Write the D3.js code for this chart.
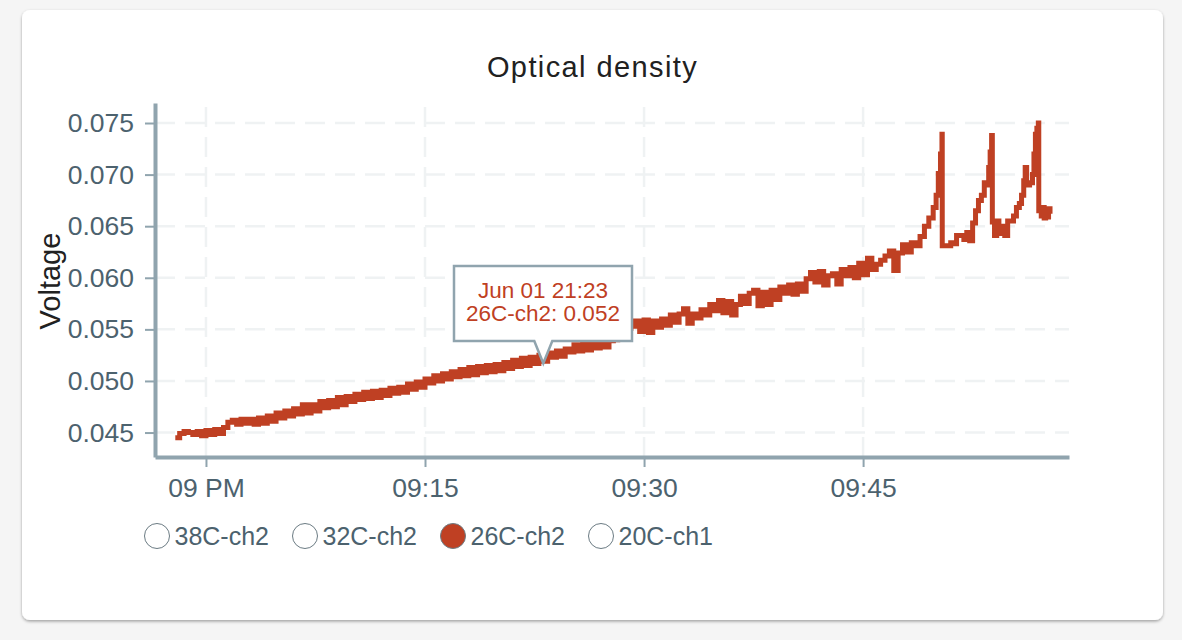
<!DOCTYPE html>
<html>
<head>
<meta charset="utf-8">
<script src="https://cdn.jsdelivr.net/npm/d3@7"></script>
<style>
  html, body { margin: 0; padding: 0; background: #f5f5f5; }
  svg { display: block; }
  text { font-family: "Liberation Sans", sans-serif; }
</style>
</head>
<body>
<svg id="chart" width="1182" height="640"></svg>
<script>
const chartTitle = "Optical density";
const yLabel = "Voltage";
const seriesNames = ["38C-ch2", "32C-ch2", "26C-ch2", "20C-ch1"];
const activeSeries = "26C-ch2";
const yTicks = [0.045, 0.05, 0.055, 0.06, 0.065, 0.07, 0.075];
const xTickMinutes = [0, 15, 30, 45];
const xTickLabels = ["09 PM", "09:15", "09:30", "09:45"];
const tooltipLines = ["Jun 01 21:23", "26C-ch2: 0.052"];
const tooltipMinute = 23.1;
const tooltipValue = 0.052;

// minutes after 21:00
const minutes = [
  -2.1,-1.8,-1.5,-1.2,-0.9,-0.6,-0.3,0,0.3,0.6,
  0.9,1.2,1.5,1.8,2.1,2.4,2.7,3,3.3,3.6,
  3.9,4.2,4.5,4.8,5.1,5.4,5.7,6,6.3,6.6,
  6.9,7.2,7.5,7.8,8.1,8.4,8.7,9,9.3,9.6,
  9.9,10.2,10.5,10.8,11.1,11.4,11.7,12,12.3,12.6,
  12.9,13.2,13.5,13.8,14.1,14.4,14.7,15,15.3,15.6,
  15.9,16.2,16.5,16.8,17.1,17.4,17.7,18,18.3,18.6,
  18.9,19.2,19.5,19.8,20.1,20.4,20.7,21,21.3,21.6,
  21.9,22.2,22.5,22.8,23.1,23.4,23.7,24,24.3,24.6,
  24.9,25.2,25.5,25.8,26.1,26.4,26.7,27,27.3,27.6,
  27.9,28.2,28.5,28.8,29.1,29.4,29.7,30,30.3,30.6,
  30.9,31.2,31.5,31.8,32.1,32.4,32.7,33,33.3,33.6,
  33.9,34.2,34.5,34.8,35.1,35.4,35.7,36,36.3,36.6,
  36.9,37.2,37.5,37.8,38.1,38.4,38.7,39,39.3,39.6,
  39.9,40.2,40.5,40.8,41.1,41.4,41.7,42,42.3,42.6,
  42.9,43.2,43.5,43.8,44.1,44.4,44.7,45,45.3,45.6,
  45.9,46.2,46.5,46.8,47.1,47.4,47.7,48,48.3,48.6,
  48.9,49.2,49.5,49.8,50,50.15,50.3,50.4,50.42,50.7,
  51,51.2,51.4,51.6,51.9,52.1,52.3,52.5,52.7,52.9,
  53.1,53.3,53.5,53.6,53.7,53.8,53.85,54,54.15,54.3,
  54.5,54.7,54.9,55.1,55.3,55.5,55.7,55.85,56,56.1,
  56.2,56.4,56.6,56.7,56.8,56.9,57,57.03,57.05,57.2,
  57.3,57.4,57.5,57.6,57.7,57.8
];

const voltage = [
  .0445,.0449,.0451,.0450,.0448,.0451,.0447,.0452,.0448,.0453,
  .0449,.0455,.0460,.0462,.0458,.0463,.0459,.0463,.0458,.0464,
  .0459,.0466,.0461,.0469,.0464,.0471,.0466,.0473,.0468,.0477,
  .0469,.0477,.0471,.0480,.0474,.0481,.0475,.0484,.0477,.0485,
  .0480,.0487,.0482,.0489,.0483,.0490,.0484,.0491,.0486,.0493,
  .0488,.0494,.0489,.0497,.0492,.0499,.0494,.0502,.0498,.0505,
  .0500,.0507,.0502,.0509,.0504,.0511,.0505,.0513,.0506,.0514,
  .0508,.0515,.0509,.0516,.0510,.0518,.0512,.0520,.0514,.0522,
  .0515,.0523,.0517,.0525,.0519,.0527,.0523,.0529,.0524,.0531,
  .0528,.0535,.0529,.0536,.0530,.0538,.0532,.0540,.0533,.0539,
  .0540,.0544,.0547,.0551,.0553,.0558,.0548,.0559,.0547,.0558,
  .0552,.0560,.0554,.0564,.0557,.0565,.0570,.0556,.0565,.0561,
  .0569,.0564,.0574,.0568,.0578,.0566,.0577,.0564,.0574,.0582,
  .0575,.0585,.0588,.0573,.0586,.0574,.0588,.0579,.0591,.0585,
  .0593,.0584,.0594,.0587,.0599,.0605,.0596,.0606,.0593,.0602,
  .0604,.0594,.0608,.0602,.0610,.0600,.0614,.0603,.0619,.0608,
  .0613,.0617,.0621,.0626,.0607,.0624,.0632,.0625,.0634,.0631,
  .0640,.0650,.0658,.0668,.0680,.0701,.0720,.0739,.0631,.0631,
  .0634,.0633,.0641,.0641,.0637,.0644,.0636,.0653,.0665,.0675,
  .0680,.0692,.0690,.0707,.0722,.0738,.0654,.0641,.0655,.0643,
  .0650,.0641,.0655,.0655,.0660,.0668,.0672,.0680,.0694,.0707,
  .0690,.0692,.0700,.0720,.0739,.0745,.0750,.0665,.0668,.0660,
  .0668,.0658,.0667,.0659,.0667,.0662
];

const axisColor = "#90a4ae";
const gridColor = "#eff2f3";
const tickText = "#4c626e";
const lineColor = "#bf4023";

const t0 = new Date(2021, 5, 1, 21, 0);
const toDate = m => new Date(t0.getTime() + m * 60000);

const svg = d3.select("#chart");

svg.append("defs").append("filter").attr("id", "card-shadow")
    .attr("x", "-5%").attr("y", "-5%").attr("width", "110%").attr("height", "110%")
  .append("feDropShadow")
    .attr("dx", 0).attr("dy", 1.5).attr("stdDeviation", 1.5)
    .attr("flood-color", "#000").attr("flood-opacity", 0.35);

svg.append("rect")
    .attr("x", 22).attr("y", 10).attr("width", 1141).attr("height", 610).attr("rx", 8)
    .attr("fill", "#fff").attr("filter", "url(#card-shadow)");

const x = d3.scaleTime().domain([toDate(-3.49), toDate(59.1)]).range([155, 1069]);
const y = d3.scaleLinear().domain([0.04263, 0.07694]).range([457, 103]);

svg.append("text")
    .attr("x", 592.5).attr("y", 77).attr("text-anchor", "middle")
    .attr("font-size", 29).attr("letter-spacing", 1.4).attr("fill", "#212121")
    .text(chartTitle);

// grid
const grid = svg.append("g").attr("fill", "none").attr("stroke", gridColor)
    .attr("stroke-width", 2.5).attr("stroke-dasharray", "20,10");
grid.selectAll("line.h").data(yTicks).enter().append("line").attr("class", "h")
    .attr("x1", 155).attr("x2", 1069)
    .attr("y1", d => y(d)).attr("y2", d => y(d));
grid.selectAll("line.v").data(xTickMinutes).enter().append("line").attr("class", "v")
    .attr("x1", d => x(toDate(d))).attr("x2", d => x(toDate(d)))
    .attr("y1", 457).attr("y2", 103);

// axes
const yAxis = svg.append("g").attr("transform", "translate(155,0)")
    .call(d3.axisLeft(y).tickValues(yTicks).tickFormat(d3.format(".3f"))
      .tickSizeInner(10).tickSizeOuter(0).tickPadding(11));
const xAxis = svg.append("g").attr("transform", "translate(0,457)")
    .call(d3.axisBottom(x).tickValues(xTickMinutes.map(toDate))
      .tickFormat((d, i) => xTickLabels[i]).tickSizeInner(10).tickSizeOuter(0).tickPadding(11));

[yAxis, xAxis].forEach(a => {
  a.select(".domain").attr("stroke", axisColor).attr("stroke-width", 4);
  a.selectAll(".tick line").attr("stroke", axisColor).attr("stroke-width", 2);
  a.selectAll(".tick text").attr("fill", tickText).attr("font-size", 26.5)
      .attr("font-family", "'Liberation Sans', sans-serif");
});

svg.append("text")
    .attr("transform", "translate(60,281) rotate(-90)")
    .attr("text-anchor", "middle").attr("font-size", 29).attr("fill", "#212121")
    .text(yLabel);

// series
const line = d3.line()
    .x(d => x(toDate(d[0])))
    .y(d => y(d[1]))
    .curve(d3.curveStepAfter);

svg.append("path")
    .datum(d3.zip(minutes, voltage))
    .attr("fill", "none")
    .attr("stroke", lineColor)
    .attr("stroke-width", 5)
    .attr("d", line);

// legend
const legend = svg.append("g").selectAll("g").data(seriesNames).enter().append("g")
    .attr("transform", (d, i) => `translate(${157 + i * 148},536)`);
legend.append("circle")
    .attr("r", 12.5)
    .attr("fill", d => d === activeSeries ? lineColor : "#fff")
    .attr("stroke", "#6b7b83").attr("stroke-width", 1);
legend.append("text")
    .attr("x", 17.5).attr("y", 8.5)
    .attr("font-size", 25).attr("fill", tickText)
    .text(d => d);

// tooltip
const tipX = x(toDate(tooltipMinute));
const tipY = y(tooltipValue) + 3;
const tooltip = svg.append("g");
tooltip.append("path")
    .attr("d", `M454,266H632V341H${tipX + 9}L${tipX},${tipY}L${tipX - 9},341H454Z`)
    .attr("fill", "#fff").attr("stroke", axisColor).attr("stroke-width", 2.5);
tooltip.selectAll("text").data(tooltipLines).enter().append("text")
    .attr("x", 543).attr("y", (d, i) => 298 + i * 23)
    .attr("text-anchor", "middle").attr("font-size", 22.5).attr("fill", lineColor)
    .text(d => d);
</script>
</body>
</html>
